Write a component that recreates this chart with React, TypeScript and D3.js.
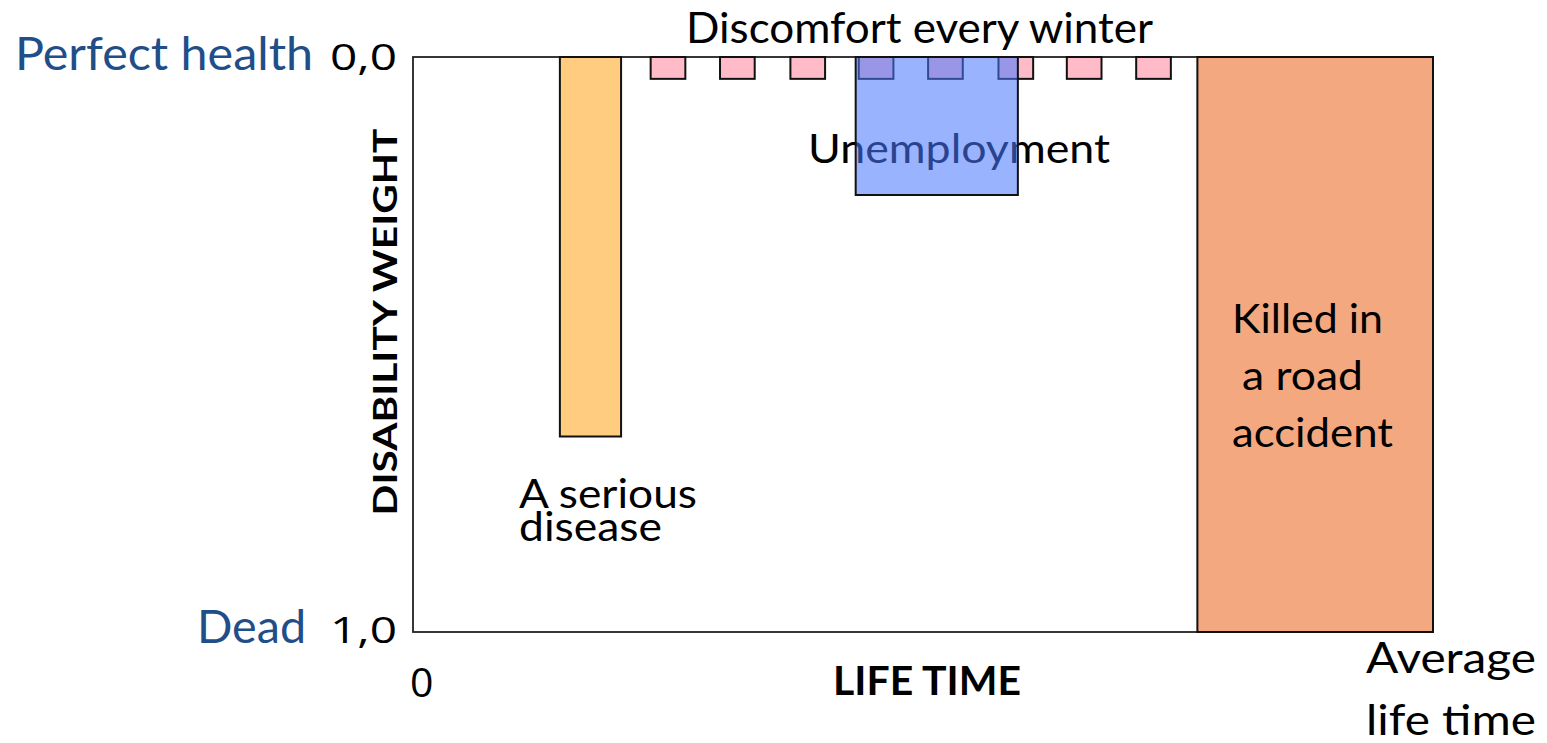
import * as d3 from "d3";

// life time in % of average life, disability weight 0 (perfect health) .. 1 (dead)
const episodeNames = ["disease", "unemployment", "accident"];
const episodeStart = [14.4, 43.4, 76.9];
const episodeEnd = [20.4, 59.3, 100];
const episodeWeight = [0.66, 0.24, 1.0];

const winterStart = [23.3, 30.1, 37.0, 43.7, 50.5, 57.4, 64.1, 70.9];
const winterLength = 3.4;
const winterWeight = 0.038;

const yTickValues = [0, 1];
const yTickLabels = ["0,0", "1,0"];
const yStateLabels = ["Perfect health", "Dead"];

const FILLS: Record<string, string> = {
  disease: "#ffcc80",
  unemployment: "#4a78ff",
  accident: "#f4a87f",
};

const W = 1547;
const H = 743;
const FONT = "Lato, 'Open Sans', sans-serif";
const DIGITS = "'Open Sans', 'Noto Sans', sans-serif";

export default function App() {
  const x = d3.scaleLinear().domain([0, 100]).range([413, 1433]);
  const y = d3.scaleLinear().domain([0, 1]).range([57, 632]);

  const rect = (name: string) => {
    const i = episodeNames.indexOf(name);
    return {
      x: x(episodeStart[i]),
      y: y(0),
      w: x(episodeEnd[i]) - x(episodeStart[i]),
      h: y(episodeWeight[i]) - y(0),
    };
  };
  const dis = rect("disease");
  const unemp = rect("unemployment");
  const acc = rect("accident");

  const blue = "#1f4e89";

  return (
    <div style={{ position: "absolute", left: 0, top: 0 }}>
      <svg width={W} height={H} style={{ display: "block", background: "#fff" }}>
        {/* plot frame */}
        <rect
          x={x(0)}
          y={y(0)}
          width={x(100) - x(0)}
          height={y(1) - y(0)}
          fill="#fff"
          stroke="#222"
          strokeWidth={1.8}
        />

        {/* serious disease */}
        <rect x={dis.x} y={dis.y} width={dis.w} height={dis.h}
          fill={FILLS.disease} stroke="#111" strokeWidth={2} />

        {/* winter discomfort */}
        {winterStart.map((s, i) => (
          <rect
            key={i}
            x={x(s)}
            y={y(0)}
            width={x(s + winterLength) - x(s)}
            height={y(winterWeight) - y(0)}
            fill="#ffbbc8"
            stroke="#111"
            strokeWidth={2}
          />
        ))}

        {/* road accident */}
        <rect x={acc.x} y={acc.y} width={acc.w} height={acc.h}
          fill={FILLS.accident} stroke="#111" strokeWidth={2} />

        {/* unemployment text sits under the translucent box */}
        <text x={808} y={163} fontFamily={FONT} fontSize={40}
          textLength={302} lengthAdjust="spacingAndGlyphs" fill="#000">
          Unemployment
        </text>
        <rect x={unemp.x} y={unemp.y} width={unemp.w} height={unemp.h}
          fill={FILLS.unemployment} fillOpacity={0.56} stroke="#111" strokeWidth={2} />

        {/* annotations */}
        <text x={686} y={43} fontFamily={FONT} fontSize={42}
          textLength={467} lengthAdjust="spacingAndGlyphs">
          Discomfort every winter
        </text>
        <text x={519} y={508} fontFamily={FONT} fontSize={40}
          textLength={178} lengthAdjust="spacingAndGlyphs">A serious</text>
        <text x={519} y={541} fontFamily={FONT} fontSize={40}
          textLength={143} lengthAdjust="spacingAndGlyphs">disease</text>

        <text x={1232} y={333} fontFamily={FONT} fontSize={40}
          textLength={151} lengthAdjust="spacingAndGlyphs">Killed in</text>
        <text x={1242} y={390} fontFamily={FONT} fontSize={40}
          textLength={121} lengthAdjust="spacingAndGlyphs">a road</text>
        <text x={1232} y={447} fontFamily={FONT} fontSize={40}
          textLength={161} lengthAdjust="spacingAndGlyphs">accident</text>

        {/* y axis labels */}
        {yTickValues.map((v, i) => (
          <g key={v}>
            <text x={397} y={y(v) + 13 - (i === 0 ? 0 : 2)} fontFamily={DIGITS} fontSize={36}
              textAnchor="end" textLength={67} lengthAdjust="spacingAndGlyphs">
              {yTickLabels[i]}
            </text>
            <text x={i === 0 ? 313 : 306} y={y(v) + 13 - (i === 0 ? 0 : 2)} fontFamily={FONT}
              fontSize={46} fill={blue} textAnchor="end"
              textLength={i === 0 ? 298 : 109} lengthAdjust="spacingAndGlyphs">
              {yStateLabels[i]}
            </text>
          </g>
        ))}
        <text
          transform={`translate(397, 322) rotate(-90)`}
          fontFamily={FONT}
          fontWeight="bold"
          fontSize={33}
          textAnchor="middle"
          textLength={387}
          lengthAdjust="spacingAndGlyphs"
        >
          DISABILITY WEIGHT
        </text>

        {/* x axis labels */}
        <text x={x(0) - 3} y={697} fontFamily={DIGITS} fontSize={41}>0</text>
        <text x={927} y={695} fontFamily={FONT} fontWeight="bold" fontSize={40}
          textAnchor="middle" textLength={188} lengthAdjust="spacingAndGlyphs">
          LIFE TIME
        </text>
        <text x={1366} y={673} fontFamily={FONT} fontSize={43}
          textLength={170} lengthAdjust="spacingAndGlyphs">Average</text>
        <text x={1366} y={735} fontFamily={FONT} fontSize={43}
          textLength={170} lengthAdjust="spacingAndGlyphs">life time</text>
      </svg>
    </div>
  );
}
